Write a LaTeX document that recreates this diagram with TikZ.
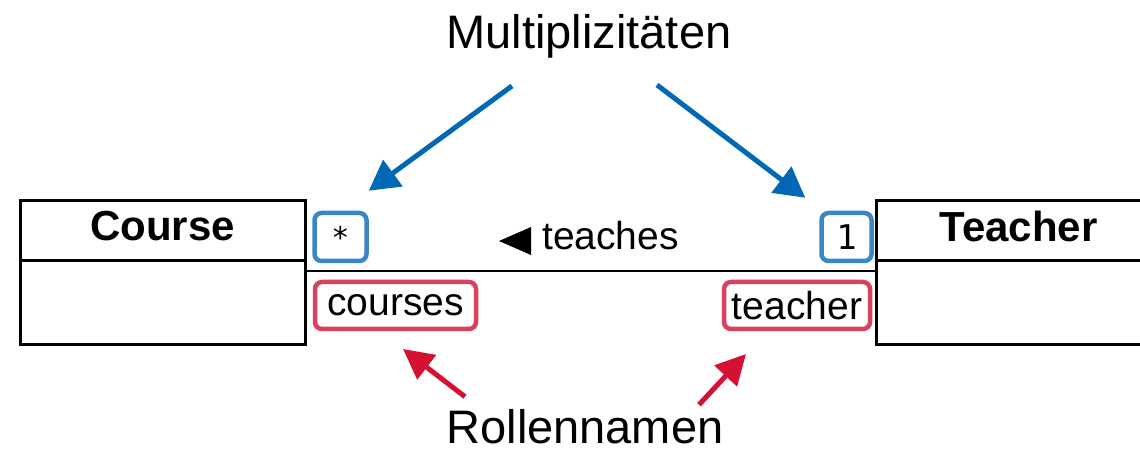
\documentclass[tikz,border=0pt]{standalone}
\usepackage{fontspec}
\setmainfont{Liberation Sans}
\newfontfamily\multfont{DejaVu Sans Mono}
\usepackage{xcolor}
\usepackage{tikz}
\usetikzlibrary{positioning,arrows.meta}

\definecolor{multblue}{RGB}{0,104,180}
\definecolor{multframe}{RGB}{58,134,198}
\definecolor{rolered}{RGB}{214,16,50}
\definecolor{roleframe}{RGB}{219,64,94}

\begin{document}
\begin{tikzpicture}[
  x=1pt, y=1pt,
  head/.style={rectangle, draw, line width=3pt, inner sep=0pt, outer sep=0pt, minimum width=285pt, minimum height=60pt, text depth=10pt, font=\fontsize{42}{46}\selectfont\bfseries},
  body/.style={rectangle, draw, line width=3pt, outer sep=0pt, minimum width=285pt, minimum height=83pt},
  assoc/.style={line width=2.5pt},
  multbox/.style={rectangle, draw=multframe, rounded corners=7pt, line width=4.5pt, inner sep=0pt, minimum height=48pt, font=\multfont\fontsize{34}{38}\selectfont},
  rolebox/.style={rectangle, draw=roleframe, rounded corners=7pt, line width=4.5pt, inner sep=0pt, minimum height=47pt, font=\fontsize{39}{42}\selectfont},
  assoclabel/.style={inner sep=0pt, font=\fontsize{39}{42}\selectfont},
  title/.style={inner sep=0pt, font=\fontsize{47}{52}\selectfont},
  multarrow/.style={draw=multblue, line width=5pt, -{Triangle[length=30pt, width=32pt]}},
  rolearrow/.style={draw=rolered, line width=5pt, -{Triangle[length=30pt, width=30pt]}}
]
\useasboundingbox (0,0) rectangle (1140,450);

% Classes
\node[head] (course) at (162.5,219) {Course};
\node[body, below=0pt of course] (coursebody) {};
\node[head] (teacher) at (1018.5,219) {Teacher};
\node[body, below=0pt of teacher] (teacherbody) {};

% Association
\draw[assoc] ([yshift=-10pt]coursebody.north east) -- ([yshift=-10pt]teacherbody.north west);
\node[assoclabel, anchor=base west] (teaches) at (542,200) {teaches};
\fill ([xshift=-11pt,yshift=-5pt]teaches.base west) -- ++(0,28) -- ++(-32,-14) -- cycle;

% Multiplicities and role names
\node[multbox, minimum width=52pt] (many) at (340.5,213) {\fontsize{30}{32}\selectfont\raisebox{-5pt}{*}};
\node[multbox, minimum width=50pt] (one) at (846.5,213) {1};
\node[rolebox, minimum width=161pt] (courses) at (395.5,144.5) {courses};
\node[rolebox, minimum width=146pt] (teacherrole) at (797,144.5) {teacher};

% Titles
\node[title, anchor=base] (multi) at (589,401) {Multiplizitäten};
\node[title, anchor=base] (roles) at (585,7) {Rollennamen};

% Pointers
\draw[multarrow] ([shift={(-77pt,-27pt)}]multi.south) -- ([yshift=20pt]many.north east);
\draw[multarrow] ([shift={(68pt,-26pt)}]multi.south) -- ([shift={(-14pt,13pt)}]one.north west);
\draw[rolearrow] ([shift={(-120pt,12pt)}]roles.north) -- ([shift={(7.5pt,-17.75pt)}]courses.south);
\draw[rolearrow] ([shift={(114pt,4pt)}]roles.north) -- ([shift={(-51pt,-22.75pt)}]teacherrole.south);

\end{tikzpicture}
\end{document}
